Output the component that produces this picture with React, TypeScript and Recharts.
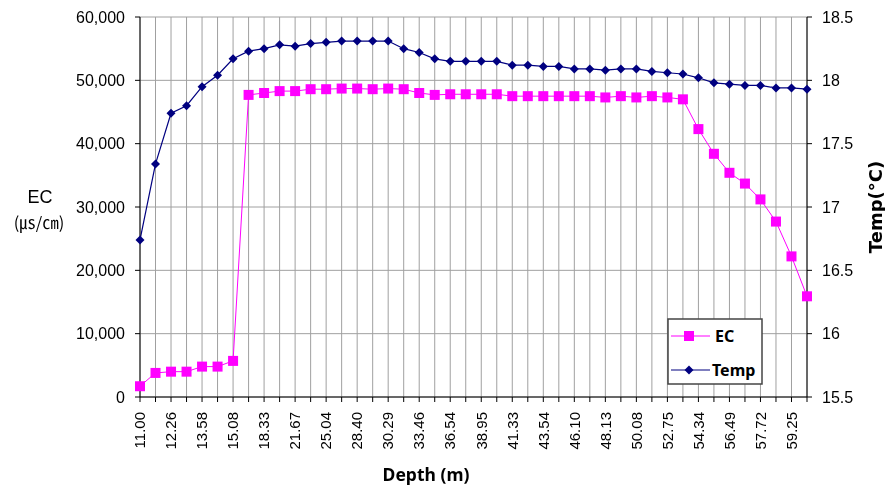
import { CartesianGrid, Line, LineChart, XAxis, YAxis } from "recharts";

// depth (m) of each reading; only every second one is labelled on the axis
const depths = [
  "11.00", "11.63", "12.26", "12.92", "13.58", "14.33", "15.08", "16.70",
  "18.33", "20.00", "21.67", "23.35", "25.04", "26.72", "28.40", "29.35",
  "30.29", "31.88", "33.46", "35.00", "36.54", "37.75", "38.95", "40.14",
  "41.33", "42.44", "43.54", "44.82", "46.10", "47.12", "48.13", "49.10",
  "50.08", "51.42", "52.75", "53.55", "54.34", "55.42", "56.49", "57.10",
  "57.72", "58.49", "59.25", "60.00",
];

const ecValues = [
  1700, 3800, 4000, 4000, 4800, 4800, 5700, 47700,
  48000, 48300, 48300, 48600, 48600, 48700, 48700, 48600,
  48700, 48600, 48000, 47700, 47800, 47800, 47800, 47800,
  47500, 47500, 47500, 47500, 47500, 47500, 47300, 47500,
  47300, 47500, 47300, 47000, 42300, 38400, 35400, 33700,
  31200, 27700, 22200, 15900,
];

const tempValues = [
  16.74, 17.34, 17.74, 17.8, 17.95, 18.04, 18.17, 18.23,
  18.25, 18.28, 18.27, 18.29, 18.3, 18.31, 18.31, 18.31,
  18.31, 18.25, 18.22, 18.17, 18.15, 18.15, 18.15, 18.15,
  18.12, 18.12, 18.11, 18.11, 18.09, 18.09, 18.08, 18.09,
  18.09, 18.07, 18.06, 18.05, 18.02, 17.98, 17.97, 17.96,
  17.96, 17.94, 17.94, 17.93,
];

const ecTicks = [0, 10000, 20000, 30000, 40000, 50000, 60000];
const tempTicks = [15.5, 16, 16.5, 17, 17.5, 18, 18.5];

const data = depths.map((depth, i) => ({
  depth,
  ec: ecValues[i],
  temp: tempValues[i],
}));

const EC_COLOR = "#ff00ff";
const TEMP_COLOR = "#000080";
const ARIAL = "'Liberation Sans', Arial, sans-serif";
const TITLE_FONT = "'Noto Sans', 'Open Sans', sans-serif";

const DepthTick = (props: any) => {
  const { x, y, index, payload } = props;
  if (index % 2 !== 0) return <g />;
  return (
    <text
      x={x}
      y={y}
      transform={`rotate(-90, ${x}, ${y})`}
      textAnchor="end"
      dy="0.35em"
      fontSize={15}
      fontFamily={ARIAL}
      fill="#000"
    >
      {payload.value}
    </text>
  );
};

const DepthLabel = () => (
  <text x={418} y={473} textAnchor="middle" fontSize={17.5} fontWeight="bold" fontFamily={TITLE_FONT} fill="#000">
    Depth (m)
  </text>
);

const EcLabel = () => (
  <g fill="#000">
    <text x={32} y={195} textAnchor="middle" fontSize={18} fontFamily={ARIAL}>
      EC
    </text>
    <text x={31} y={221} textAnchor="middle" fontSize={16.5} fontFamily="'Noto Sans CJK KR', sans-serif">
      (㎲/㎝)
    </text>
  </g>
);

const TempLabel = () => (
  <text
    x={868}
    y={199}
    transform="rotate(-90, 868, 199)"
    textAnchor="middle"
    dy="0.35em"
    fontSize={18}
    fontWeight="bold"
    fontFamily="'DejaVu Sans', sans-serif"
    fill="#000"
  >
    Temp(°C)
  </text>
);

const renderEcDot = (p: any) => (
  <rect key={`ec-${p.index}`} x={p.cx - 5} y={p.cy - 5} width={10} height={10} fill={EC_COLOR} />
);

const renderTempDot = (p: any) => (
  <polygon
    key={`t-${p.index}`}
    points={`${p.cx},${p.cy - 4.5} ${p.cx + 4.5},${p.cy} ${p.cx},${p.cy + 4.5} ${p.cx - 4.5},${p.cy}`}
    fill={TEMP_COLOR}
  />
);

export default function App() {
  // fixed so the chart can run to the window edge without adding a scrollbar
  return (
    <div style={{ position: "fixed", left: 8, top: 8, width: 877, height: 481 }}>
      <LineChart width={877} height={481} data={data} margin={{ top: 9, right: 0, bottom: 0, left: 0 }}>
        <CartesianGrid yAxisId="ec" stroke="#a0a0a0" strokeWidth={1} />
        <XAxis
          dataKey="depth"
          interval={0}
          height={92}
          tick={<DepthTick />}
          tickSize={5}
          tickMargin={10}
          axisLine={{ stroke: "#000" }}
          tickLine={{ stroke: "#000" }}
          label={<DepthLabel />}
        />
        <YAxis
          yAxisId="ec"
          orientation="left"
          width={132}
          domain={[0, 60000]}
          ticks={ecTicks}
          interval={0}
          tickFormatter={(v: number) => v.toLocaleString("en-US")}
          tick={{ fill: "#000", fontSize: 16, fontFamily: ARIAL }}
          tickSize={5}
          tickMargin={10}
          axisLine={{ stroke: "#000" }}
          tickLine={{ stroke: "#000" }}
          label={<EcLabel />}
        />
        <YAxis
          yAxisId="temp"
          orientation="right"
          width={78}
          domain={[15.5, 18.5]}
          ticks={tempTicks}
          interval={0}
          tick={{ fill: "#000", fontSize: 16, fontFamily: ARIAL }}
          tickSize={5}
          tickMargin={10}
          axisLine={{ stroke: "#000" }}
          tickLine={{ stroke: "#000" }}
          label={<TempLabel />}
        />
        <Line
          yAxisId="ec"
          dataKey="ec"
          name="EC"
          stroke={EC_COLOR}
          strokeWidth={1}
          dot={renderEcDot}
          activeDot={false}
          isAnimationActive={false}
        />
        <Line
          yAxisId="temp"
          dataKey="temp"
          name="Temp"
          stroke={TEMP_COLOR}
          strokeWidth={1.2}
          dot={renderTempDot}
          activeDot={false}
          isAnimationActive={false}
        />
      </LineChart>
      <svg width={96} height={67} style={{ position: "absolute", left: 659, top: 310 }}>
        <rect x={1} y={1} width={94} height={65} fill="#fff" stroke="#444" strokeWidth={1.5} />
        <line x1={4} y1={18} x2={43} y2={18} stroke={EC_COLOR} strokeWidth={1} />
        <rect x={17} y={13} width={10} height={10} fill={EC_COLOR} />
        <text x={48} y={24} fontSize={16} fontWeight="bold" fontFamily={TITLE_FONT} fill="#000">
          EC
        </text>
        <line x1={4} y1={52} x2={43} y2={52} stroke={TEMP_COLOR} strokeWidth={1.2} />
        <polygon points="22,47.5 26.5,52 22,56.5 17.5,52" fill={TEMP_COLOR} />
        <text x={45} y={58} fontSize={16} fontWeight="bold" fontFamily={TITLE_FONT} fill="#000">
          Temp
        </text>
      </svg>
    </div>
  );
}
